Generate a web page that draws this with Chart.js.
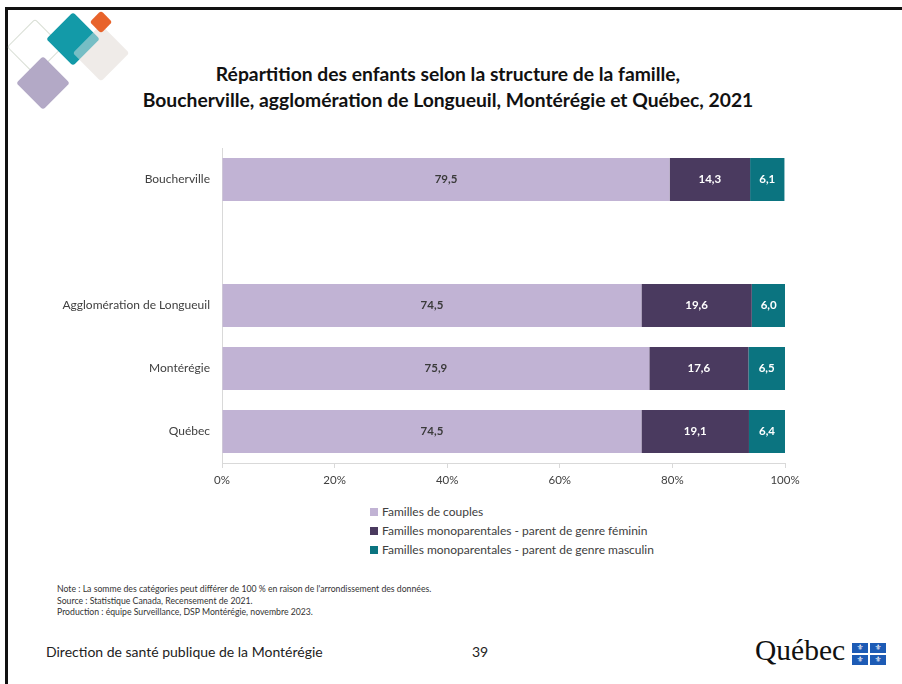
<!DOCTYPE html>
<html lang="fr">
<head>
<meta charset="utf-8">
<title>Répartition des enfants selon la structure de la famille</title>
<script src="https://cdn.jsdelivr.net/npm/chart.js@4"></script>
<style>
  body { margin: 0; background: #fff; font-family: Lato, "Open Sans", sans-serif; }
  #page { position: relative; width: 902px; height: 684px; overflow: hidden; }
  .frame { position: absolute; left: 5px; top: 7px; width: 910px; height: 690px; border-top: 3px solid #111; border-left: 3px solid #111; }
  .dia { position: absolute; transform: rotate(45deg); border-radius: 3px; }
  #title { position: absolute; left: 0; width: 896px; top: 61px; text-align: center; font-weight: bold; font-size: 19.3px; line-height: 26px; color: #111; }
  #chartBox { position: absolute; left: 0; top: 129px; width: 902px; height: 371px; }
  #legend { position: absolute; left: 370px; top: 502px; font-size: 12px; color: #404040; }
  #legend div { height: 19px; line-height: 19px; white-space: nowrap; }
  #legend span { display: inline-block; width: 8px; height: 8px; margin-right: 4px; }
  #notes { position: absolute; left: 57px; top: 583px; font-size: 8.7px; line-height: 11.5px; color: #333; }
  #footer { position: absolute; left: 46px; top: 643px; font-size: 14px; color: #222; }
  #page-no { position: absolute; left: 472px; top: 643px; font-size: 14px; color: #222; }
  #logo { position: absolute; left: 755px; top: 634px; font-family: "Liberation Serif", "DejaVu Serif", serif; font-size: 29.5px; color: #111; }
  #flag { position: absolute; left: 852px; top: 643px; width: 34px; height: 22px; background: #fff; }
  #flag div { position: absolute; width: 16px; height: 10px; background: #1d5bb5; color: #fff; font-size: 8px; line-height: 10px; text-align: center; font-family: "DejaVu Sans", sans-serif; }
</style>
</head>
<body>
<div id="page">
  <div class="frame"></div>

  <!-- decorative diamonds, top left -->
  <div class="dia" style="left:15px;top:27px;width:38px;height:38px;border:1.5px solid #d8ded4;"></div>
  <div class="dia" style="left:24px;top:64px;width:38px;height:38px;background:#b3a9c6;"></div>
  <div class="dia" style="left:81px;top:33px;width:40px;height:40px;background:#efece8;"></div>
  <div class="dia" style="left:54px;top:20px;width:38px;height:38px;background:#139aa8;"></div>
  <div class="dia" style="left:81px;top:33px;width:40px;height:40px;background:rgba(239,236,232,0.45);"></div>
  <div class="dia" style="left:93px;top:14px;width:16px;height:16px;background:#e8632b;"></div>

  <div id="title">Répartition des enfants selon la structure de la famille,<br>Boucherville, agglomération de Longueuil, Montérégie et Québec, 2021</div>

  <div id="chartBox"><canvas id="chartId" width="902" height="371"></canvas></div>

  <div id="legend"></div>

  <div id="notes">
    Note : La somme des catégories peut différer de 100 % en raison de l'arrondissement des données.<br>
    Source : Statistique Canada, Recensement de 2021.<br>
    Production : équipe Surveillance, DSP Montérégie, novembre 2023.
  </div>

  <div id="footer">Direction de santé publique de la Montérégie</div>
  <div id="page-no">39</div>
  <div id="logo">Québec</div>
  <div id="flag">
    <div style="left:0;top:0;">⚜</div>
    <div style="left:18px;top:0;">⚜</div>
    <div style="left:0;top:12px;">⚜</div>
    <div style="left:18px;top:12px;">⚜</div>
  </div>
</div>

<script>
// regions (the empty one leaves the gap under Boucherville)
var regions = ['Boucherville', '', 'Agglomération de Longueuil', 'Montérégie', 'Québec'];

// percentages per family structure
var couples = [79.5, null, 74.5, 75.9, 74.5];
var monoFeminin = [14.3, null, 19.6, 17.6, 19.1];
var monoMasculin = [6.1, null, 6.0, 6.5, 6.4];

var seriesNames = [
  'Familles de couples',
  'Familles monoparentales - parent de genre féminin',
  'Familles monoparentales - parent de genre masculin'
];
var seriesColors = ['#c1b3d4', '#4a3a5f', '#0b7480'];
var labelColors = ['#3a3a3a', '#ffffff', '#ffffff'];

var xTicks = [0, 20, 40, 60, 80, 100];

// writes values with a comma as decimal separator
function frNumber(v) {
  return v.toFixed(1).replace('.', ',');
}

// draws the value in the middle of each bar segment
var barValues = {
  id: 'barValues',
  afterDatasetsDraw: function (chart) {
    var ctx = chart.ctx;
    ctx.save();
    ctx.font = 'bold 11.5px Lato, sans-serif';
    ctx.textAlign = 'center';
    ctx.textBaseline = 'middle';
    chart.data.datasets.forEach(function (ds, i) {
      var meta = chart.getDatasetMeta(i);
      meta.data.forEach(function (bar, j) {
        if (ds.data[j] == null) return;
        var p = bar.getProps(['x', 'y', 'base']);
        ctx.fillStyle = labelColors[i];
        ctx.fillText(frNumber(ds.data[j]), (p.x + p.base) / 2, p.y);
      });
    });
    ctx.restore();
  }
};

var ctx = document.getElementById('chartId').getContext('2d');
var newChart = new Chart(ctx, {
  type: 'bar',
  data: {
    labels: regions,
    datasets: [couples, monoFeminin, monoMasculin].map(function (d, i) {
      return {
        label: seriesNames[i],
        data: d,
        backgroundColor: seriesColors[i],
        borderWidth: 0,
        categoryPercentage: 1,
        barPercentage: 0.68
      };
    })
  },
  options: {
    indexAxis: 'y',
    responsive: false,
    animation: false,
    layout: { padding: { top: 19, right: 117 } },
    plugins: {
      legend: { display: false },
      tooltip: { enabled: false }
    },
    scales: {
      x: {
        stacked: true,
        min: 0,
        max: 100,
        afterBuildTicks: function (axis) {
          axis.ticks = xTicks.map(function (v) { return { value: v }; });
        },
        afterFit: function (axis) { axis.height = 37; },
        grid: { drawOnChartArea: false, tickLength: 5, color: '#d9d9d9' },
        border: { color: '#d9d9d9' },
        ticks: {
          padding: 5,
          color: '#404040',
          font: { family: 'Lato', size: 11.5 },
          callback: function (v) { return v + '%'; }
        }
      },
      y: {
        stacked: true,
        afterFit: function (axis) { axis.width = 222; },
        grid: { display: false },
        border: { color: '#d9d9d9' },
        ticks: {
          padding: 4,
          color: '#404040',
          font: { family: 'Lato', size: 12 }
        }
      }
    }
  },
  plugins: [barValues]
});

// legend listed one item per line under the chart
var legend = document.getElementById('legend');
seriesNames.forEach(function (name, i) {
  var row = document.createElement('div');
  row.innerHTML = '<span style="background:' + seriesColors[i] + '"></span>' + name;
  legend.appendChild(row);
});
</script>
</body>
</html>
